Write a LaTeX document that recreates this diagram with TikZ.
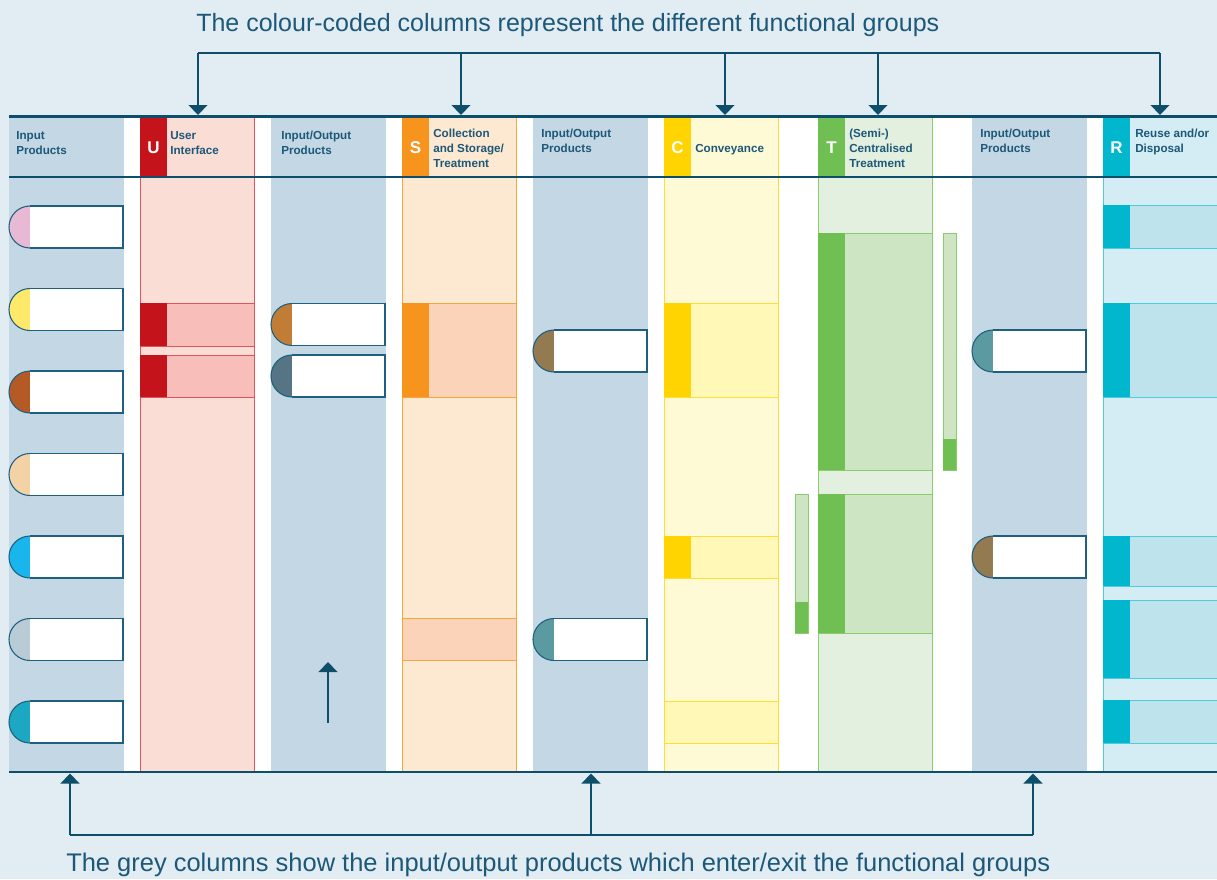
\documentclass[tikz,border=0pt]{standalone}
\usepackage{fontspec}
\setmainfont{Liberation Sans}
\usetikzlibrary{arrows.meta}
\definecolor{bg}{HTML}{E1ECF3}
\definecolor{grey}{HTML}{C3D8E4}
\definecolor{ln}{HTML}{0D4F6B}
\definecolor{txt}{HTML}{1D5878}
\definecolor{pb}{HTML}{1F5F7F}
\definecolor{Utab}{HTML}{C4131A}\definecolor{Ufill}{HTML}{FADED5}\definecolor{Ublk}{HTML}{F8BFBA}\definecolor{Uline}{HTML}{E0555A}
\definecolor{Stab}{HTML}{F7941D}\definecolor{Sfill}{HTML}{FDE8D2}\definecolor{Sblk}{HTML}{FBD3B9}\definecolor{Sline}{HTML}{F9A53F}
\definecolor{Ctab}{HTML}{FFD400}\definecolor{Cfill}{HTML}{FFFAD6}\definecolor{Cblk}{HTML}{FFF8B6}\definecolor{Cline}{HTML}{FFDD33}
\definecolor{Ttab}{HTML}{70BF53}\definecolor{Tfill}{HTML}{E4F0DF}\definecolor{Tblk}{HTML}{CEE5C4}\definecolor{Tline}{HTML}{88CC70}
\definecolor{Rtab}{HTML}{00B7CE}\definecolor{Rfill}{HTML}{D4ECF3}\definecolor{Rblk}{HTML}{BEE3EC}\definecolor{Rline}{HTML}{4FCADF}
\definecolor{pA}{HTML}{E8B9D4}\definecolor{pB}{HTML}{FFE96B}\definecolor{pC}{HTML}{B55A24}\definecolor{pD}{HTML}{F3D3A6}
\definecolor{pE}{HTML}{18B6EC}\definecolor{pF}{HTML}{B9CCD5}\definecolor{pG}{HTML}{1CA8C2}
\definecolor{qA}{HTML}{C17C36}\definecolor{qB}{HTML}{557585}\definecolor{qC}{HTML}{937A51}\definecolor{qD}{HTML}{5A9AA0}
\tikzset{
  hd/.style={anchor=base west, inner sep=0pt, text=txt, font=\bfseries\fontsize{8.75}{10}\selectfont},
  tabl/.style={anchor=base, inner sep=0pt, text=white, font=\bfseries\fontsize{12.75}{14}\selectfont},
  captxt/.style={anchor=base west, inner sep=0pt, text=txt},
  arr/.style={draw=ln, line width=1.4pt, -{Triangle[width=14pt,length=7.5pt]}},
  brk/.style={draw=ln, line width=1.4pt},
  mainln/.style={draw=ln, line width=1.6pt},
  pillln/.style={draw=pb, line width=0.8pt},
  colbox/.style={line width=0.75pt},
}
\newcommand\pill[4]{%
  \filldraw[fill=#4, pillln] (#1+21,#2) circle[radius=21];
  \fill[white] (#1+21,#2-21) rectangle (#3,#2+21);
  \draw[pillln] (#1+21,#2-21) -- (#3,#2-21) -- (#3,#2+21) -- (#1+21,#2+21);
}
\newcommand\blk[6]{% x1,y1,x2,y2,fill,line
  \filldraw[fill=#5, draw=#6, colbox] (#1,#2) rectangle (#3,#4);
}
\begin{document}
\begin{tikzpicture}[x=0.75pt,y=-0.75pt]
\useasboundingbox (0,0) rectangle (1217,879);
\fill[bg] (0,0) rectangle (1217,879);
\fill[white] (9,117) rectangle (1217,772);
% grey columns
\fill[grey] (9,117) rectangle (124,772);
\fill[grey] (271,117) rectangle (386,772);
\fill[grey] (533,117) rectangle (648,772);
\fill[grey] (972,117) rectangle (1087,772);
% U column
\filldraw[fill=Ufill, draw=Uline, colbox] (140,117) rectangle (254,772);
\fill[Utab] (140,117) rectangle (167,177);
\blk{140}{303}{254}{346}{Ublk}{Uline}\fill[Utab] (140,303) rectangle (167,346);
\blk{140}{355}{254}{397}{Ublk}{Uline}\fill[Utab] (140,355) rectangle (167,397);
% S column
\filldraw[fill=Sfill, draw=Sline, colbox] (402,117) rectangle (516,772);
\fill[Stab] (402,117) rectangle (429,177);
\blk{402}{303}{516}{397}{Sblk}{Sline}\fill[Stab] (402,303) rectangle (429,397);
\blk{402}{618}{516}{660}{Sblk}{Sline}
% C column
\filldraw[fill=Cfill, draw=Cline, colbox] (664,117) rectangle (778,772);
\fill[Ctab] (664,117) rectangle (691,177);
\blk{664}{303}{778}{397}{Cblk}{Cline}\fill[Ctab] (664,303) rectangle (691,397);
\blk{664}{536}{778}{578}{Cblk}{Cline}\fill[Ctab] (664,536) rectangle (691,578);
\blk{664}{701}{778}{743}{Cblk}{Cline}
% T column
\filldraw[fill=Tfill, draw=Tline, colbox] (818,117) rectangle (932,772);
\fill[Ttab] (818,117) rectangle (845,177);
\blk{818}{233}{932}{470}{Tblk}{Tline}\fill[Ttab] (818,233) rectangle (845,470);
\blk{818}{494}{932}{633}{Tblk}{Tline}\fill[Ttab] (818,494) rectangle (845,633);
\blk{943}{233}{956}{470}{Tblk}{Tline}\fill[Ttab] (943,439) rectangle (956,470);
\blk{795}{494}{808}{633}{Tblk}{Tline}\fill[Ttab] (795,602) rectangle (808,633);
% R column
\fill[Rfill] (1103,117) rectangle (1217,772);
\draw[draw=Rline, colbox] (1103.5,117) -- (1103.5,772);
\fill[Rtab] (1103,117) rectangle (1130,177);
\blk{1103}{205}{1220}{248}{Rblk}{Rline}\fill[Rtab] (1103,205) rectangle (1130,248);
\blk{1103}{303}{1220}{397}{Rblk}{Rline}\fill[Rtab] (1103,303) rectangle (1130,397);
\blk{1103}{536}{1220}{586}{Rblk}{Rline}\fill[Rtab] (1103,536) rectangle (1130,586);
\blk{1103}{600}{1220}{678}{Rblk}{Rline}\fill[Rtab] (1103,600) rectangle (1130,678);
\blk{1103}{700}{1220}{743}{Rblk}{Rline}\fill[Rtab] (1103,700) rectangle (1130,743);
% main lines
\draw[mainln] (9,116.5) -- (1217,116.5);
\draw[mainln] (9,177) -- (1217,177);
\draw[mainln] (9,772) -- (1217,772);
% pills
\pill{9}{227}{123}{pA}
\pill{9}{309.5}{123}{pB}
\pill{9}{392}{123}{pC}
\pill{9}{474.5}{123}{pD}
\pill{9}{557}{123}{pE}
\pill{9}{639.5}{123}{pF}
\pill{9}{722}{123}{pG}
\pill{271}{324.5}{385}{qA}
\pill{271}{376}{385}{qB}
\pill{533}{351}{647}{qC}
\pill{533}{639.5}{647}{qD}
\pill{972}{351}{1086}{qD}
\pill{972}{557}{1086}{qC}
% header texts
\node[hd] (h1a) at (16,139) {Input};
\node[hd] (h1b) at (16,154) {Products};
\node[tabl] (tU) at (153.5,153) {U};
\node[hd] (h2a) at (170,139) {User};
\node[hd] (h2b) at (170,154) {Interface};
\node[hd] (h3a) at (281,139) {Input/Output};
\node[hd] (h3b) at (281,154) {Products};
\node[tabl] (tS) at (415.5,153) {S};
\node[hd] (h4a) at (433,137) {Collection};
\node[hd] (h4b) at (433,152) {and Storage/};
\node[hd] (h4c) at (433,167) {Treatment};
\node[hd] (h5a) at (541,137) {Input/Output};
\node[hd] (h5b) at (541,152) {Products};
\node[tabl] (tC) at (677.5,153) {C};
\node[hd] (h6a) at (695,152) {Conveyance};
\node[tabl] (tT) at (831.5,153) {T};
\node[hd] (h7a) at (849,137) {(Semi-)};
\node[hd] (h7b) at (849,152) {Centralised};
\node[hd] (h7c) at (849,167) {Treatment};
\node[hd] (h8a) at (980,137) {Input/Output};
\node[hd] (h8b) at (980,152) {Products};
\node[tabl] (tR) at (1116.5,153) {R};
\node[hd] (h9a) at (1135,137) {Reuse and/or};
\node[hd] (h9b) at (1135,152) {Disposal};
% captions
\node[captxt, font=\fontsize{18.75}{22}\selectfont] (captop) at (196,31) {The colour-coded columns represent the different functional groups};
\node[captxt, font=\fontsize{19.1}{22}\selectfont] (capbot) at (66,871) {The grey columns show the input/output products which enter/exit the functional groups};
% top bracket
\coordinate (ta) at (198,53); \coordinate (tb) at (461,53); \coordinate (tc) at (725,53);
\coordinate (td) at (878,53); \coordinate (te) at (1160,53);
\coordinate (ua) at (198,115); \coordinate (ub) at (461,115); \coordinate (uc) at (725,115);
\coordinate (ud) at (878,115); \coordinate (ue) at (1160,115);
\draw[brk] (ta) -- (te);
\foreach \s/\t in {ta/ua,tb/ub,tc/uc,td/ud,te/ue} \draw[arr] (\s) -- (\t);
% bottom bracket
\coordinate (ba) at (70,835); \coordinate (bb) at (591,835); \coordinate (bc) at (1033,835);
\coordinate (va) at (70,773.5); \coordinate (vb) at (591,773.5); \coordinate (vc) at (1033,773.5);
\draw[brk] (ba) -- (bc);
\foreach \s/\t in {ba/va,bb/vb,bc/vc} \draw[arr] (\s) -- (\t);
% arrow in column
\coordinate (ka) at (328,723); \coordinate (kb) at (328,662);
\draw[arr] (ka) -- (kb);
\end{tikzpicture}
\end{document}
